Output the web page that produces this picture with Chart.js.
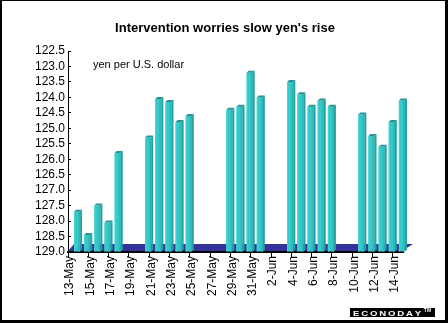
<!DOCTYPE html>
<html>
<head>
<meta charset="utf-8">
<script src="https://cdn.jsdelivr.net/npm/chart.js@4.4.1/dist/chart.umd.min.js"></script>
<style>
  html, body { margin: 0; padding: 0; background: #fff; }
</style>
</head>
<body>
<canvas id="yen-chart" width="448" height="323"></canvas>
<script>
// every calendar day shown on the axis
var days = ['13-May', '14-May', '15-May', '16-May', '17-May', '18-May', '19-May',
            '20-May', '21-May', '22-May', '23-May', '24-May', '25-May', '26-May',
            '27-May', '28-May', '29-May', '30-May', '31-May', '1-Jun', '2-Jun',
            '3-Jun', '4-Jun', '5-Jun', '6-Jun', '7-Jun', '8-Jun', '9-Jun',
            '10-Jun', '11-Jun', '12-Jun', '13-Jun', '14-Jun'];

// yen per U.S. dollar (null = no trading)
var yenRate = [127.7, 128.45, 127.5, 128.05, 125.8, null, null,
               125.3, 124.05, 124.15, 124.8, 124.6, null, null,
               null, 124.4, 124.3, 123.2, 124.0, null, null,
               123.5, 123.9, 124.3, 124.1, 124.3, null, null,
               124.55, 125.25, 125.6, 124.8, 124.1];

// value axis (upside down: stronger yen is higher)
var yTop = 122.5;
var yBottom = 129.0;
var yStep = 0.5;

var FONT = '"Liberation Sans", Arial, sans-serif';
var depth = 4;   // 3d shift of the bars

var look3d = {
    id: 'look3d',
    beforeDraw: function (chart) {
        var c = chart.ctx;
        c.save();
        c.fillStyle = '#fff';
        c.fillRect(0, 0, chart.width, chart.height);
        c.restore();
    },
    beforeDatasetsDraw: function (chart) {
        var c = chart.ctx, a = chart.chartArea;
        // blue floor
        c.save();
        c.fillStyle = '#333399';
        c.beginPath();
        c.moveTo(a.left, a.bottom - 1);
        c.lineTo(a.right - 1, a.bottom - 1);
        c.lineTo(a.right + 10, a.bottom - 8);
        c.lineTo(a.left + 6, a.bottom - 8);
        c.closePath();
        c.fill();
        c.restore();
        c.save();
        c.translate(depth, 0);
    },
    afterDatasetsDraw: function (chart) {
        var c = chart.ctx;
        chart.getDatasetMeta(0).data.forEach(function (bar, i) {
            if (yenRate[i] == null) return;
            var p = bar.getProps(['x', 'y', 'base', 'width'], true);
            var x0 = p.x - p.width / 2, x1 = p.x + p.width / 2;
            // shading on the face
            c.fillStyle = '#2fbaba';
            c.fillRect(x1 - 2, p.y, 2, p.base - p.y);
            c.fillStyle = '#45d6d6';
            c.fillRect(x0, p.y, 1, p.base - p.y);
            // side
            c.fillStyle = '#279f9f';
            c.beginPath();
            c.moveTo(x1, p.y);
            c.lineTo(x1 + 2, p.y - 2);
            c.lineTo(x1 + 2, p.base - 2);
            c.lineTo(x1, p.base);
            c.closePath();
            c.fill();
            // top cap
            c.fillStyle = '#2a9292';
            c.beginPath();
            c.moveTo(x0, p.y);
            c.lineTo(x0 + 2, p.y - 2);
            c.lineTo(x1 + 2, p.y - 2);
            c.lineTo(x1, p.y);
            c.closePath();
            c.fill();
        });
        c.restore();
    },
    afterDraw: function (chart) {
        var c = chart.ctx, a = chart.chartArea;
        c.save();
        // title
        c.fillStyle = '#000';
        c.textAlign = 'center';
        c.textBaseline = 'alphabetic';
        c.font = 'bold 13px ' + FONT;
        c.fillText("Intervention worries slow yen's rise", 225, 32);
        // unit note
        c.textAlign = 'left';
        c.font = '11px ' + FONT;
        c.fillText('yen per U.S. dollar', a.left + 25, 68);
        // logo
        c.fillStyle = '#000';
        c.fillRect(350, 308, 85, 9);
        c.fillStyle = '#fff';
        c.font = 'bold 8px ' + FONT;
        var lx = 353;
        'ECONODAY'.split('').forEach(function (ch) {
            c.save();
            c.translate(lx, 316);
            c.scale(1.2, 1);
            c.fillText(ch, 0, 0);
            c.restore();
            lx += c.measureText(ch).width * 1.2 + 1.8;
        });
        c.font = 'bold 5px ' + FONT;
        c.fillText('TM', lx + 1, 312);
        // frame
        c.fillStyle = '#000';
        c.fillRect(0, 0, chart.width, 1);
        c.fillRect(0, 0, 2, chart.height);
        c.fillRect(chart.width - 3, 0, 3, chart.height);
        c.fillRect(0, chart.height - 3, chart.width, 3);
        c.restore();
    }
};

var ctx = document.getElementById('yen-chart').getContext('2d');
var chart = new Chart(ctx, {
    type: 'bar',
    data: {
        labels: days,
        datasets: [{
            data: yenRate,
            base: yBottom,
            backgroundColor: '#36c9c9',
            borderWidth: 0,
            barPercentage: 0.6,
            categoryPercentage: 1.0
        }]
    },
    options: {
        responsive: false,
        animation: false,
        devicePixelRatio: 1,
        layout: { padding: { top: 51, left: 0, right: 45, bottom: 0 } },
        plugins: {
            legend: { display: false },
            tooltip: { enabled: false },
            title: { display: false }
        },
        scales: {
            x: {
                z: 1,
                afterFit: function (s) { s.height = 71; },
                border: { color: '#000', width: 2 },
                grid: {
                    drawOnChartArea: false,
                    offset: true,
                    tickLength: 5,
                    tickColor: function (c) { return c.index % 2 === 0 ? '#000' : 'rgba(0,0,0,0)'; }
                },
                ticks: {
                    autoSkip: false,
                    maxRotation: 90,
                    minRotation: 90,
                    padding: -1,
                    labelOffset: -3,
                    color: '#000',
                    font: { family: FONT, size: 12 },
                    callback: function (v, i) { return i % 2 === 0 ? days[i] : ''; }
                }
            },
            y: {
                reverse: true,
                min: yTop,
                max: yBottom,
                afterFit: function (s) { s.width = 68; },
                border: { color: '#000', width: 1 },
                // short marks pointing into the plot
                grid: { drawOnChartArea: false, tickLength: -3, tickColor: '#000' },
                ticks: {
                    stepSize: yStep,
                    autoSkip: false,
                    padding: 6,
                    color: '#000',
                    font: { family: FONT, size: 12 },
                    callback: function (v) { return v.toFixed(1); }
                }
            }
        }
    },
    plugins: [look3d]
});
</script>
</body>
</html>
